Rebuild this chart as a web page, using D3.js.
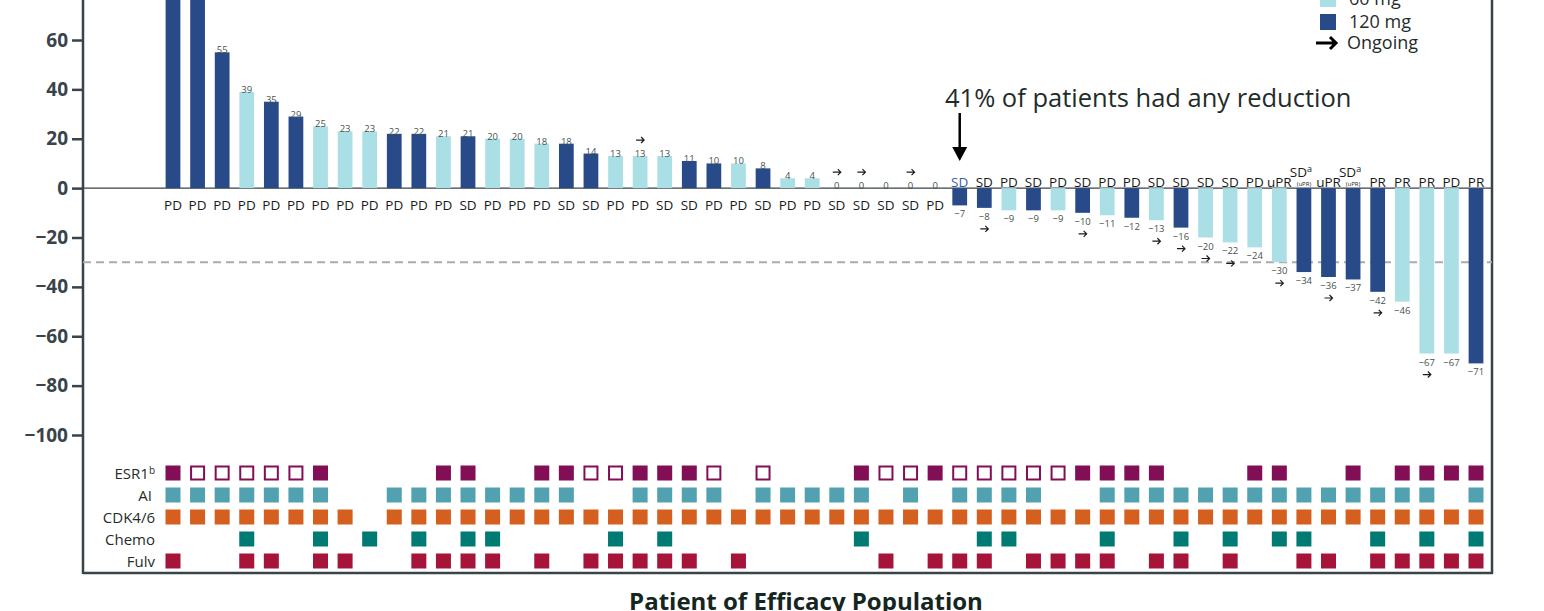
<!DOCTYPE html>
<html>
<head>
<meta charset="utf-8">
<script src="https://cdn.jsdelivr.net/npm/d3@7"></script>
<style>
  html, body { margin: 0; padding: 0; background: #fff; overflow: hidden; }
  svg { display: block; font-family: "Open Sans", "DejaVu Sans", sans-serif; }
</style>
</head>
<body>
<svg id="chart" width="1544" height="611"></svg>
<script>
// ---- data ---------------------------------------------------------------
const patients = d3.range(1, 55);

// best % change in tumour size, per patient (sorted waterfall)
const changes = [98, 91, 55, 39, 35, 29, 25, 23, 23, 22, 22, 21, 21, 20, 20, 18, 18, 14,
  13, 13, 13, 11, 10, 10, 8, 4, 4, 0, 0, 0, 0, 0,
  -7, -8, -9, -9, -9, -10, -11, -12, -13, -16, -20, -22, -24, -30, -34, -36, -37, -42,
  -46, -67, -67, -71];

// dose level (mg)
const doses = [120, 120, 120, 60, 120, 120, 60, 60, 60, 120, 120, 60, 120, 60, 60, 60, 120, 120,
  60, 60, 60, 120, 120, 60, 120, 60, 60, 120, 120, 120, 120, 120,
  120, 120, 60, 120, 60, 120, 60, 120, 60, 120, 60, 60, 60, 60, 120, 120, 120, 120,
  60, 60, 60, 120];

// best overall response ("SDa" = SD with unconfirmed PR)
const responses = ["PD", "PD", "PD", "PD", "PD", "PD", "PD", "PD", "PD", "PD", "PD", "PD", "SD", "PD", "PD", "PD", "SD", "SD",
  "PD", "PD", "SD", "SD", "PD", "PD", "SD", "PD", "PD", "SD", "SD", "SD", "SD", "PD",
  "SD", "SD", "PD", "SD", "PD", "SD", "PD", "PD", "SD", "SD", "SD", "SD", "PD", "uPR", "SDa", "uPR", "SDa", "PR",
  "PR", "PR", "PD", "PR"];

// patients still on treatment
const ongoing = [20, 28, 29, 31, 34, 38, 41, 42, 43, 44, 46, 48, 50, 52];

// prior therapy / biomarker grid: F = filled, O = open, "" = none
const esr1 = ["F", "O", "O", "O", "O", "O", "F", "", "", "", "", "F", "F", "", "", "F", "F", "O",
  "O", "F", "F", "F", "O", "", "O", "", "", "", "F", "O", "O", "F",
  "O", "O", "O", "O", "O", "F", "F", "F", "F", "", "", "", "F", "F", "", "", "F", "",
  "F", "F", "F", "F"];
const priorAI = [1, 1, 1, 1, 1, 1, 1, 0, 0, 1, 1, 1, 1, 1, 1, 1, 1, 0,
  0, 1, 1, 1, 1, 0, 1, 1, 1, 1, 1, 0, 1, 0,
  1, 1, 1, 1, 0, 0, 1, 1, 1, 1, 1, 1, 1, 1, 1, 1, 1, 1,
  1, 1, 0, 1];
const priorCDK = patients.map(p => p === 9 ? 0 : 1);
const priorChemo = [0, 0, 0, 1, 0, 0, 1, 0, 1, 0, 1, 0, 1, 1, 0, 0, 0, 0,
  1, 0, 1, 0, 0, 0, 0, 0, 0, 0, 1, 0, 0, 0,
  0, 1, 1, 0, 0, 0, 1, 0, 0, 1, 0, 1, 0, 1, 1, 0, 0, 1,
  0, 1, 0, 1];
const priorFulv = [1, 0, 0, 1, 1, 0, 1, 1, 0, 0, 1, 1, 1, 1, 0, 1, 0, 1,
  1, 1, 1, 1, 0, 1, 0, 0, 0, 0, 0, 1, 0, 1,
  1, 1, 0, 1, 1, 1, 1, 0, 1, 1, 0, 1, 0, 0, 1, 1, 0, 1,
  1, 1, 1, 1];

const rowNames = ["ESR1", "AI", "CDK4/6", "Chemo", "Fulv"];
const yTicks = [-100, -80, -60, -40, -20, 0, 20, 40, 60];
const legendItems = [{ label: "60 mg", dose: 60 }, { label: "120 mg", dose: 120 }];

// ---- styles ---------------------------------------------------------------
const C = {
  dose60: "#aadfe6", dose120: "#284a88",
  axis: "#38434a", text: "#1f2d29", value: "#46524e",
  esr1: "#820f55", ai: "#52a1b0", cdk: "#d45f1f", chemo: "#007b74", fulv: "#a6143a"
};

const svg = d3.select("#chart");

const x = d3.scaleBand().domain(patients).range([160.7, 1488.3])
  .paddingInner(0.4).paddingOuter(0.2);
const y = d3.scaleLinear().domain([-100, 60]).range([435, 40]);
const cx = p => x(p) + x.bandwidth() / 2;
const yRow = d3.scalePoint().domain(rowNames).range([473, 561]);

const plotLeft = 83, plotRight = 1492, plotBottom = 573;

// ---- frame + y axis ---------------------------------------------------------
svg.append("line").attr("x1", plotLeft).attr("x2", plotLeft).attr("y1", -20).attr("y2", plotBottom + 1)
  .attr("stroke", C.axis).attr("stroke-width", 2.5);
svg.append("line").attr("x1", plotRight).attr("x2", plotRight).attr("y1", -20).attr("y2", plotBottom + 1)
  .attr("stroke", C.axis).attr("stroke-width", 2.5);
svg.append("line").attr("x1", plotLeft).attr("x2", plotRight + 1).attr("y1", plotBottom).attr("y2", plotBottom)
  .attr("stroke", C.axis).attr("stroke-width", 2.5);

const yAxis = svg.append("g").attr("transform", `translate(${plotLeft},0)`)
  .call(d3.axisLeft(y).tickValues(yTicks).tickSize(11).tickPadding(4)
    .tickFormat(d => d < 0 ? "\u2212" + Math.abs(d) : d));
yAxis.select(".domain").remove();
yAxis.selectAll(".tick line").attr("stroke", C.axis).attr("stroke-width", 2.5);
yAxis.selectAll(".tick text").attr("fill", C.axis).attr("font-size", 19).attr("font-weight", 700)
  .attr("font-family", "'Open Sans', sans-serif");

// zero line and -30% threshold
svg.append("line").attr("x1", plotLeft).attr("x2", plotRight).attr("y1", y(0)).attr("y2", y(0))
  .attr("stroke", C.axis).attr("stroke-width", 1.2);
svg.append("line").attr("x1", plotLeft).attr("x2", plotRight).attr("y1", y(-30)).attr("y2", y(-30))
  .attr("stroke", "#ababab").attr("stroke-width", 2).attr("stroke-dasharray", "8,5");

// ---- bars ---------------------------------------------------------------
const bars = patients.map((p, i) => ({ p, v: changes[i], dose: doses[i], resp: responses[i] }));

svg.append("g").selectAll("rect").data(bars.filter(d => d.v !== 0)).join("rect")
  .attr("x", d => x(d.p)).attr("width", x.bandwidth())
  .attr("y", d => y(Math.max(0, d.v))).attr("height", d => Math.abs(y(d.v) - y(0)))
  .attr("fill", d => d.dose === 60 ? C.dose60 : C.dose120);

// value labels
svg.append("g").selectAll("text").data(bars).join("text")
  .attr("x", d => cx(d.p))
  .attr("y", d => d.v >= 0 ? y(d.v) + 1 : y(d.v) + 12)
  .attr("text-anchor", "middle").attr("font-size", 9.5).attr("fill", C.value)
  .text(d => d.v < 0 ? "\u2212" + Math.abs(d.v) : d.v);

// ongoing arrows
function arrowPath(ax, ay, half, head) {
  return `M${ax - half},${ay}H${ax + half}M${ax + half - head},${ay - head}L${ax + half},${ay}L${ax + half - head},${ay + head}`;
}
svg.append("g").selectAll("path").data(bars.filter(d => ongoing.includes(d.p))).join("path")
  .attr("d", d => {
    const ay = d.v >= 0 ? y(d.v) - 16 : y(d.v) + 21;
    return arrowPath(cx(d.p), ay, 4, 3);
  })
  .attr("fill", "none").attr("stroke", "#1c1c1c").attr("stroke-width", 1.2);

// response labels
const respG = svg.append("g").attr("font-size", 13.5).attr("fill", "#1a1a1a");
bars.forEach(d => {
  const ty = d.v >= 0 ? 210 : 187;
  if (d.resp === "SDa") {
    const t = respG.append("text").attr("x", cx(d.p) - 3).attr("y", 177).attr("text-anchor", "middle");
    t.append("tspan").text("SD");
    t.append("tspan").attr("font-size", 9).attr("dy", -5).text("a");
    respG.append("text").attr("x", cx(d.p)).attr("y", 186).attr("text-anchor", "middle")
      .attr("font-size", 6).text("(uPR)");
  } else {
    respG.append("text").attr("x", cx(d.p)).attr("y", ty).attr("text-anchor", "middle")
      .attr("fill", d.p === 33 ? "#3a5ca8" : "#1a1a1a")
      .text(d.resp);
  }
});

// ---- annotation ---------------------------------------------------------
svg.append("text").attr("x", 945).attr("y", 107).attr("font-size", 25.5).attr("fill", C.text)
  .text("41% of patients had any reduction");
svg.append("line").attr("x1", cx(33)).attr("x2", cx(33)).attr("y1", 113).attr("y2", 150)
  .attr("stroke", "#000").attr("stroke-width", 2.5);
svg.append("path").attr("d", `M${cx(33) - 7.5},147L${cx(33) + 7.5},147L${cx(33)},161Z`).attr("fill", "#000");

// ---- legend ---------------------------------------------------------------
const lg = svg.append("g").attr("transform", "translate(1320,-9)");
lg.selectAll("rect").data(legendItems).join("rect")
  .attr("x", 0).attr("y", (d, i) => i * 23).attr("width", 16).attr("height", 16)
  .attr("fill", d => d.dose === 60 ? C.dose60 : C.dose120);
lg.selectAll("text.lab").data(legendItems).join("text").attr("class", "lab")
  .attr("x", 29).attr("y", (d, i) => i * 23 + 14).attr("font-size", 18).attr("fill", C.text)
  .text(d => d.label);
lg.append("path").attr("d", arrowPath(6, 52, 10, 6)).attr("fill", "none")
  .attr("stroke", "#000").attr("stroke-width", 3);
lg.append("text").attr("x", 27).attr("y", 58).attr("font-size", 18).attr("fill", C.text).text("Ongoing");

// ---- prior therapy grid ---------------------------------------------------------
const sq = 15;
const rowLab = svg.append("g").attr("font-size", 15).attr("fill", C.text).attr("text-anchor", "end");
rowNames.forEach(r => {
  const t = rowLab.append("text").attr("x", r === "AI" ? 152 : 155).attr("y", yRow(r) + 5.5);
  if (r === "ESR1") {
    t.append("tspan").text("ESR1");
    t.append("tspan").attr("font-size", 10).attr("dy", -5).text("b");
  } else {
    t.text(r);
  }
});

const grid = svg.append("g");
// ESR1: filled or open squares
grid.selectAll("rect.esr1").data(patients.filter((p, i) => esr1[i] !== "")).join("rect")
  .attr("class", "esr1")
  .attr("x", p => esr1[p - 1] === "F" ? cx(p) - sq / 2 : cx(p) - sq / 2 + 1)
  .attr("y", p => esr1[p - 1] === "F" ? yRow("ESR1") - sq / 2 : yRow("ESR1") - sq / 2 + 1)
  .attr("width", p => esr1[p - 1] === "F" ? sq : sq - 2)
  .attr("height", p => esr1[p - 1] === "F" ? sq : sq - 2)
  .attr("fill", p => esr1[p - 1] === "F" ? C.esr1 : "#fff")
  .attr("stroke", p => esr1[p - 1] === "F" ? "none" : C.esr1)
  .attr("stroke-width", 2);

const flagRows = [
  { name: "AI", vals: priorAI, color: C.ai },
  { name: "CDK4/6", vals: priorCDK, color: C.cdk },
  { name: "Chemo", vals: priorChemo, color: C.chemo },
  { name: "Fulv", vals: priorFulv, color: C.fulv }
];
flagRows.forEach(row => {
  grid.append("g").selectAll("rect").data(patients.filter((p, i) => row.vals[i])).join("rect")
    .attr("x", p => cx(p) - sq / 2).attr("y", yRow(row.name) - sq / 2)
    .attr("width", sq).attr("height", sq).attr("fill", row.color);
});

// ---- x axis title ---------------------------------------------------------
svg.append("text").attr("x", 806).attr("y", 610).attr("text-anchor", "middle")
  .attr("font-size", 24).attr("font-weight", 700).attr("fill", "#14261f")
  .text("Patient of Efficacy Population");
</script>
</body>
</html>
